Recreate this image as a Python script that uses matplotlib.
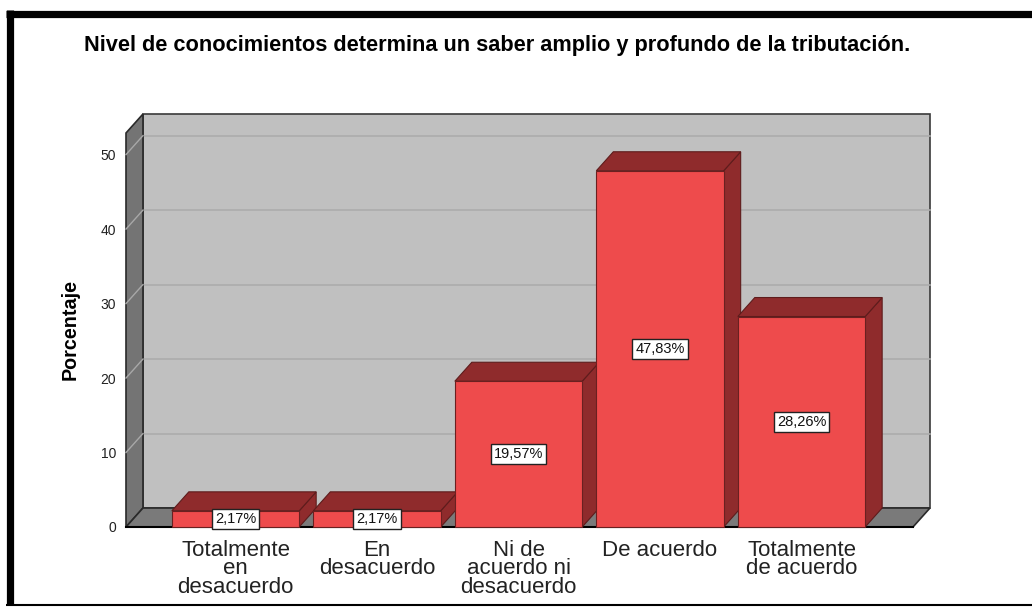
import matplotlib
matplotlib.use("Agg")
import matplotlib.pyplot as plt
from matplotlib.patches import Rectangle, Polygon
from matplotlib.lines import Line2D

categories = ["Totalmente\nen\ndesacuerdo", "En\ndesacuerdo", "Ni de\nacuerdo ni\ndesacuerdo",
              "De acuerdo", "Totalmente\nde acuerdo"]
values = [2.17, 2.17, 19.57, 47.83, 28.26]
value_labels = ["2,17%", "2,17%", "19,57%", "47,83%", "28,26%"]
yticks = [0, 10, 20, 30, 40, 50]
title = "Nivel de conocimientos determina un saber amplio y profundo de la tributación."
ylabel = "Porcentaje"

plt.rcParams['font.family'] = ['Liberation Sans', 'DejaVu Sans']

W, H = 1032, 607
fig = plt.figure(figsize=(W / 100, H / 100), dpi=100)
fig.patch.set_facecolor("white")
ax = fig.add_axes([126 / W, (H - 527) / H, 787 / W, 394 / H])
ax.set_xlim(-0.774, 4.788)
ax.set_ylim(0, 52.9)
ax.patch.set_visible(False)
for s in ax.spines.values():
    s.set_visible(False)

DX, DY = 0.12, 2.55
x0, x1 = ax.get_xlim()
y0, y1 = ax.get_ylim()

FRONT = "#ee4b4c"
DARK = "#8f2b2c"
BACK = "#c0c0c0"
SIDE = "#747474"
FLOOR = "#7a7a7a"

# back wall
ax.add_patch(Rectangle((x0 + DX, DY), x1 - x0, y1, facecolor=BACK, edgecolor="#3a3a3a",
                       lw=1.2, clip_on=False, zorder=1))
# left wall
ax.add_patch(Polygon([(x0, 0), (x0, y1), (x0 + DX, y1 + DY), (x0 + DX, DY)], closed=True,
                     facecolor=SIDE, edgecolor="#2a2a2a", lw=1.2, clip_on=False, zorder=2))
# floor
ax.add_patch(Polygon([(x0, 0), (x1, 0), (x1 + DX, DY), (x0 + DX, DY)], closed=True,
                     facecolor=FLOOR, edgecolor="#2a2a2a", lw=1.2, clip_on=False, zorder=2))
# gridlines
for t in yticks[1:]:
    ax.add_line(Line2D([x0 + DX, x1 + DX], [t + DY, t + DY], color="#acacac", lw=1.2,
                       clip_on=False, zorder=1.5))
    ax.add_line(Line2D([x0, x0 + DX], [t, t + DY], color="#a8a8a8", lw=1.0,
                       clip_on=False, zorder=2.5))
ax.add_line(Line2D([x0, x1], [0, 0], color="black", lw=1.5, clip_on=False, zorder=2.6))

# bars
bw = 0.9
for i, v in enumerate(values):
    l, r = i - bw / 2, i + bw / 2
    z = 3 + i
    ax.add_patch(Polygon([(r, 0), (r, v), (r + DX, v + DY), (r + DX, DY)], closed=True,
                         facecolor=DARK, edgecolor="#5e1c1c", lw=0.8, clip_on=False, zorder=z))
    ax.add_patch(Polygon([(l, v), (r, v), (r + DX, v + DY), (l + DX, v + DY)], closed=True,
                         facecolor=DARK, edgecolor="#5e1c1c", lw=0.8, clip_on=False, zorder=z))
    ax.add_patch(Rectangle((l, 0), bw, v, facecolor=FRONT, edgecolor="#6a2020", lw=0.8,
                           clip_on=False, zorder=z + 0.1))
    ax.text(i, v / 2, value_labels[i], ha="center", va="center", fontsize=10.5, color="#111111",
            zorder=z + 0.2,
            bbox=dict(boxstyle="square,pad=0.22", facecolor="white", edgecolor="#222222", lw=1.0))

ax.set_yticks(yticks)
ax.set_yticklabels([str(t) for t in yticks], fontsize=10, color="#222222")
ax.set_xticks(range(len(categories)))
ax.set_xticklabels(categories, fontsize=16, color="#222222", linespacing=0.86)
ax.tick_params(axis="y", length=0, pad=7)
ax.tick_params(axis="x", length=0, pad=9)

fig.text(497.5 / W, 1 - 46 / H, title, ha="center", va="center", fontsize=15.7, fontweight="bold",
         color="black")
fig.text(70 / W, 1 - 330 / H, ylabel, ha="center", va="center", rotation=90, fontsize=14.2,
         fontweight="bold", color="black")

# outer frame
fig.add_artist(Line2D([6 / W, 1], [1 - 13.5 / H, 1 - 13.5 / H], color="black", lw=5.2,
                      transform=fig.transFigure, solid_capstyle="butt"))
fig.add_artist(Line2D([9.5 / W, 9.5 / W], [1 - 10 / H, 1 - 605 / H], color="black", lw=5.2,
                      transform=fig.transFigure, solid_capstyle="butt"))
fig.add_artist(Line2D([6 / W, 1], [1 - 605 / H, 1 - 605 / H], color="black", lw=1.5,
                      transform=fig.transFigure, solid_capstyle="butt"))

fig.savefig("out.png", dpi=100, facecolor="white")
